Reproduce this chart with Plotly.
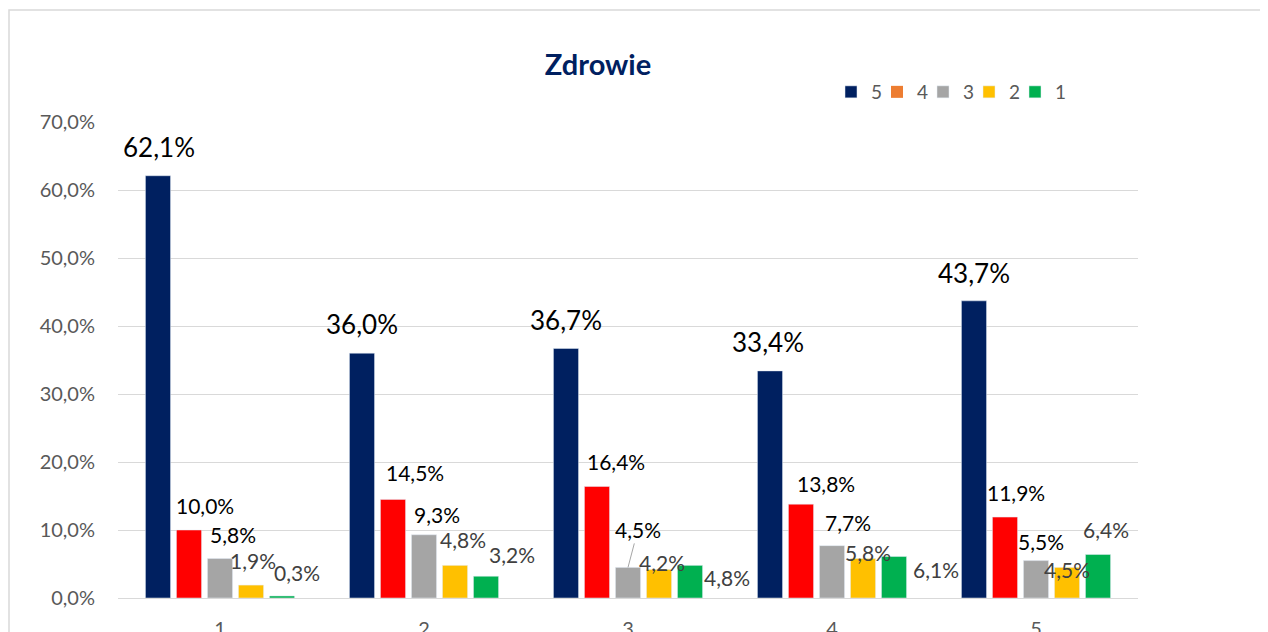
import plotly.graph_objects as go

categories = ["1", "2", "3", "4", "5"]
series_names = ["5", "4", "3", "2", "1"]
s5 = [0.621, 0.360, 0.367, 0.334, 0.437]
s4 = [0.100, 0.145, 0.164, 0.138, 0.119]
s3 = [0.058, 0.093, 0.045, 0.077, 0.055]
s2 = [0.019, 0.048, 0.042, 0.058, 0.045]
s1 = [0.003, 0.032, 0.048, 0.061, 0.064]
series_values = [s5, s4, s3, s2, s1]

bar_colors = ["#002060", "#FF0000", "#A5A5A5", "#FFC000", "#00B050"]
legend_colors = ["#002060", "#ED7D31", "#A5A5A5", "#FFC000", "#00B050"]
label_colors = ["#000000", "#000000", "#000000", "#404040", "#404040"]
label_sizes = [26, 21, 21, 21, 21]

# label offsets (px) of label centre from bar top centre: (dx, dy), dy negative = up
label_offsets = [
    [(1, -29), (0, -29), (0, -28), (-2, -29), (0, -28)],
    [(16, -25), (22, -27), (19, -25), (25, -21), (11, -25)],
    [(13, -24), (13, -20), (10, -38), (16, -23), (5, -19)],
    [(2, -25), (8, -26), (3, -7), (5, -6), (0, 2)],
    [(15, -23), (26, -22), (37, 12), (42, 13), (8, -25)],
]

FONT = "Lato, Carlito, Calibri, sans-serif"
bargap = 0.24
bargroupgap = 0.19
n = len(series_names)
slot = (1 - bargap) / n

fig = go.Figure()
for j, (name, vals) in enumerate(zip(series_names, series_values)):
    if bar_colors[j] != legend_colors[j]:
        fig.add_trace(go.Bar(x=categories, y=vals, name=name, marker_color=bar_colors[j],
                             showlegend=False, hoverinfo="y"))
        fig.add_trace(go.Scatter(x=[None], y=[None], mode="markers", name=name,
                                 marker=dict(symbol="square", size=12, color=legend_colors[j])))
    else:
        fig.add_trace(go.Bar(x=categories, y=vals, name=name, marker_color=bar_colors[j],
                             hoverinfo="y"))
# invisible spacer entry so the last legend text is not clipped
fig.add_trace(go.Scatter(x=[None], y=[None], mode="markers", name="",
                         marker=dict(symbol="square", size=1, color="rgba(0,0,0,0)"),
                         hoverinfo="skip"))

def fmt(v):
    return ("%.1f%%" % (v * 100)).replace(".", ",")

annotations = []
for j, vals in enumerate(series_values):
    for i, v in enumerate(vals):
        dx, dy = label_offsets[j][i]
        xpos = i + (j - (n - 1) / 2) * slot
        a = dict(x=xpos, y=v, xref="x", yref="y", text=fmt(v),
                 font=dict(family=FONT, size=label_sizes[j], color=label_colors[j]),
                 xanchor="center", yanchor="middle", showarrow=False,
                 xshift=dx, yshift=-dy)
        if j == 2 and i == 2:
            a.update(showarrow=True, ax=dx, ay=dy, arrowhead=0, arrowwidth=1,
                     arrowcolor="#A6A6A6", xshift=0, yshift=0, standoff=0)
        annotations.append(a)

W, H = 1260, 624
L, R, T, B = 110, 130, 114, 34
pw = W - L - R
ph = H - T - B

fig.update_layout(
    width=W, height=H,
    margin=dict(l=L, r=R, t=T, b=B, autoexpand=False),
    paper_bgcolor="white", plot_bgcolor="white",
    separators=", ",
    barmode="group", bargap=bargap, bargroupgap=bargroupgap,
    title=dict(text="<b>Zdrowie</b>", x=590 / W, xref="container", xanchor="center",
               y=1 - 57 / H, yref="container", yanchor="middle",
               font=dict(family=FONT, size=29, color="#002060")),
    legend=dict(orientation="h", x=823 / W, xref="container", xanchor="left",
                y=1 - 84 / H, yref="container", yanchor="middle",
                font=dict(family=FONT, size=19, color="#595959"),
                entrywidth=1, entrywidthmode="pixels", bgcolor="rgba(0,0,0,0)",
                traceorder="normal"),
    xaxis=dict(type="category", showgrid=False, zeroline=False, showline=False,
               ticks="", tickfont=dict(family=FONT, size=20, color="#595959"),
               ticklabelstandoff=17, automargin=False),
    yaxis=dict(range=[0, 0.7], dtick=0.1, tickformat=".1%", showgrid=True,
               gridcolor="#D9D9D9", gridwidth=1.3, zeroline=True, zerolinecolor="#D9D9D9",
               zerolinewidth=1.3, showline=False, ticks="",
               tickfont=dict(family=FONT, size=20, color="#595959"), ticklabelstandoff=22,
               automargin=False),
    annotations=annotations,
    shapes=[dict(type="rect", xref="paper", yref="paper",
                 x0=(1 - L) / pw, x1=(1400 - L) / pw,
                 y0=-0.3, y1=((H - B) - 2) / ph,
                 line=dict(color="#D9D9D9", width=1.5), fillcolor="rgba(0,0,0,0)",
                 layer="below")],
    font=dict(family=FONT),
)

fig.write_html("out.html")
